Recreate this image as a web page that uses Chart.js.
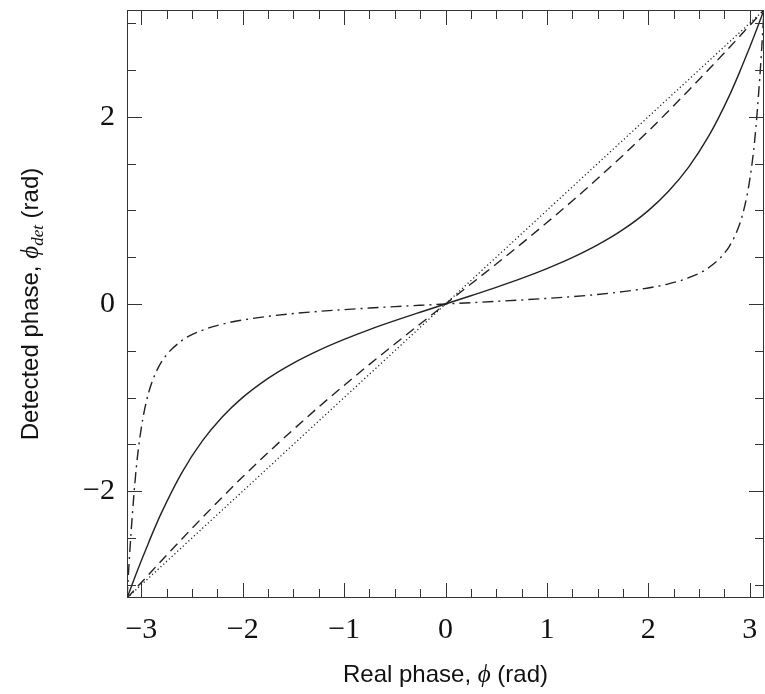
<!DOCTYPE html>
<html>
<head>
<meta charset="utf-8">
<script src="https://cdn.jsdelivr.net/npm/chart.js@4.4.1/dist/chart.umd.min.js"></script>
<style>
  html, body { margin: 0; padding: 0; background: #fff; }
  #wrap { width: 765px; height: 694px; }
</style>
</head>
<body>
<div id="wrap"><canvas id="myChart" width="765" height="694"></canvas></div>
<script>
// Real phase (x)
const phaseX = [-3.1416, -3.13, -3.12, -3.1, -3.05, -3.0, -2.95, -2.9, -2.8, -2.6, -2.4, -2.2, -2.0, -1.75, -1.5, -1.25, -1.0, -0.75, -0.5, -0.25,
  0, 0.25, 0.5, 0.75, 1.0, 1.25, 1.5, 1.75, 2.0, 2.2, 2.4, 2.6, 2.8, 2.9, 2.95, 3.0, 3.05, 3.1, 3.12, 3.13, 3.1416];

// Detected phase for each curve
const dottedY = [-3.1416, -3.13, -3.12, -3.1, -3.05, -3.0, -2.95, -2.9, -2.8, -2.6, -2.4, -2.2, -2.0, -1.75, -1.5, -1.25, -1.0, -0.75, -0.5, -0.25,
  0, 0.25, 0.5, 0.75, 1.0, 1.25, 1.5, 1.75, 2.0, 2.2, 2.4, 2.6, 2.8, 2.9, 2.95, 3.0, 3.05, 3.1, 3.12, 3.13, 3.1416];
const dashedY = [-3.1416, -3.128, -3.116, -3.093, -3.034, -2.975, -2.918, -2.858, -2.741, -2.510, -2.285, -2.063, -1.847, -1.588, -1.340, -1.100, -0.870, -0.645, -0.427, -0.213,
  0, 0.213, 0.427, 0.645, 0.870, 1.100, 1.340, 1.588, 1.847, 2.063, 2.285, 2.510, 2.741, 2.858, 2.918, 2.975, 3.034, 3.093, 3.116, 3.128, 3.1416];
const solidY = [-3.1416, -3.108, -3.080, -3.023, -2.881, -2.742, -2.608, -2.475, -2.227, -1.801, -1.466, -1.205, -0.998, -0.794, -0.631, -0.495, -0.378, -0.273, -0.178, -0.088,
  0, 0.088, 0.178, 0.273, 0.378, 0.495, 0.631, 0.794, 0.998, 1.205, 1.466, 1.801, 2.227, 2.475, 2.608, 2.742, 2.881, 3.023, 3.080, 3.108, 3.1416];
const dashDotY = [-3.1416, -2.93, -2.75, -2.418, -1.75, -1.32, -1.04, -0.85, -0.617, -0.391, -0.281, -0.215, -0.171, -0.132, -0.102, -0.079, -0.060, -0.043, -0.028, -0.014,
  0, 0.014, 0.028, 0.043, 0.060, 0.079, 0.102, 0.132, 0.171, 0.215, 0.281, 0.391, 0.617, 0.85, 1.04, 1.32, 1.75, 2.418, 2.75, 2.93, 3.1416];

// Tick labels
const xTickValues = [-3, -2, -1, 0, 1, 2, 3];
const yTickValues = [-2, 0, 2];
const axisMin = -Math.PI;
const axisMax = Math.PI;

function toPoints(xs, ys) {
  return xs.map((x, i) => ({ x: x, y: ys[i] }));
}

function fmtTick(v) {
  return v < 0 ? '\u2212' + Math.abs(v) : String(v);
}

// Khung + vạch chia hướng vào trong
const frameTicks = {
  id: 'frameTicks',
  afterDraw(chart) {
    const ctx = chart.ctx;
    const a = chart.chartArea;
    const xs = chart.scales.x;
    const ys = chart.scales.y;
    ctx.save();
    ctx.strokeStyle = '#333';
    ctx.lineWidth = 1;
    ctx.strokeRect(a.left + 0.5, a.top + 0.5, a.right - a.left - 1, a.bottom - a.top - 1);

    for (let i = -12; i <= 12; i++) {
      const v = i / 4;
      const px = Math.round(xs.getPixelForValue(v)) + 0.5;
      const len = i % 4 === 0 ? 15 : 9;
      ctx.beginPath();
      ctx.moveTo(px, a.bottom);
      ctx.lineTo(px, a.bottom - len);
      ctx.moveTo(px, a.top);
      ctx.lineTo(px, a.top + len);
      ctx.stroke();
    }
    for (let i = -6; i <= 6; i++) {
      const v = i / 2;
      const py = Math.round(ys.getPixelForValue(v)) + 0.5;
      const len = (i % 4 === 0) ? 15 : 9;
      ctx.beginPath();
      ctx.moveTo(a.left, py);
      ctx.lineTo(a.left + len, py);
      ctx.moveTo(a.right, py);
      ctx.lineTo(a.right - len, py);
      ctx.stroke();
    }
    ctx.restore();
  }
};

// Tiêu đề trục (có chữ nghiêng)
function drawParts(ctx, parts, x, y) {
  let total = 0;
  parts.forEach(p => { ctx.font = p.font; total += ctx.measureText(p.text).width; });
  let cx = x - total / 2;
  parts.forEach(p => {
    ctx.font = p.font;
    ctx.fillText(p.text, cx, y + (p.dy || 0));
    cx += ctx.measureText(p.text).width;
  });
}

const axisTitles = {
  id: 'axisTitles',
  afterDraw(chart) {
    const ctx = chart.ctx;
    const a = chart.chartArea;
    const sans = '24px "Liberation Sans", Arial, sans-serif';
    const ital = 'italic 25px "Liberation Serif", "Times New Roman", serif';
    const sub = 'italic 17px "Liberation Serif", "Times New Roman", serif';
    ctx.save();
    ctx.fillStyle = '#111';
    ctx.textBaseline = 'alphabetic';
    drawParts(ctx, [
      { text: 'Real phase, ', font: sans },
      { text: '\u03D5', font: ital },
      { text: ' (rad)', font: sans }
    ], (a.left + a.right) / 2, 682);

    ctx.translate(38, (a.top + a.bottom) / 2);
    ctx.rotate(-Math.PI / 2);
    drawParts(ctx, [
      { text: 'Detected phase, ', font: sans },
      { text: '\u03D5', font: ital },
      { text: 'det', font: sub, dy: 5 },
      { text: ' (rad)', font: sans }
    ], 0, 0);
    ctx.restore();
  }
};

const lineBase = {
  showLine: true,
  pointRadius: 0,
  borderColor: '#222',
  backgroundColor: '#222',
  fill: false,
  cubicInterpolationMode: 'monotone'
};

const ctx = document.getElementById('myChart').getContext('2d');
new Chart(ctx, {
  type: 'scatter',
  data: {
    datasets: [
      Object.assign({}, lineBase, { label: 'dotted', data: toPoints(phaseX, dottedY), borderWidth: 1.3, borderDash: [1.2, 2.6] }),
      Object.assign({}, lineBase, { label: 'dashed', data: toPoints(phaseX, dashedY), borderWidth: 1.4, borderDash: [10, 6] }),
      Object.assign({}, lineBase, { label: 'solid', data: toPoints(phaseX, solidY), borderWidth: 1.4 }),
      Object.assign({}, lineBase, { label: 'dash-dot', data: toPoints(phaseX, dashDotY), borderWidth: 1.4, borderDash: [11, 5, 2, 5] })
    ]
  },
  options: {
    responsive: false,
    animation: false,
    layout: { padding: { top: 10, right: 1, left: 0, bottom: 0 } },
    plugins: { legend: { display: false }, tooltip: { enabled: false } },
    scales: {
      x: {
        type: 'linear',
        min: axisMin,
        max: axisMax,
        grid: { display: false, drawTicks: false },
        border: { display: false },
        afterBuildTicks: (scale) => { scale.ticks = xTickValues.map(v => ({ value: v })); },
        afterFit: (scale) => {
          scale.height = 96;
          scale.paddingLeft = 0;
          scale.paddingRight = 0;
        },
        ticks: {
          color: '#111',
          padding: 14,
          maxRotation: 0,
          font: { family: '"Liberation Serif", "Times New Roman", serif', size: 30 },
          callback: (v) => fmtTick(v)
        }
      },
      y: {
        type: 'linear',
        min: axisMin,
        max: axisMax,
        grid: { display: false, drawTicks: false },
        border: { display: false },
        afterBuildTicks: (scale) => { scale.ticks = yTickValues.map(v => ({ value: v })); },
        afterFit: (scale) => {
          scale.width = 127;
          scale.paddingTop = 0;
          scale.paddingBottom = 0;
        },
        ticks: {
          color: '#111',
          padding: 12,
          font: { family: '"Liberation Serif", "Times New Roman", serif', size: 30 },
          callback: (v) => fmtTick(v)
        }
      }
    }
  },
  plugins: [frameTicks, axisTitles]
});
</script>
</body>
</html>
